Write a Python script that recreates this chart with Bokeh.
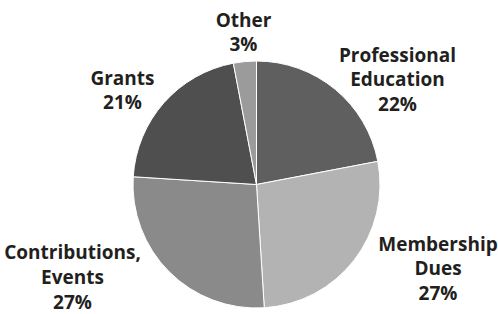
import math
from bokeh.plotting import figure
from bokeh.models import ColumnDataSource, Range1d
from bokeh.core.properties import value
from bokeh.embed import file_html
from bokeh.resources import INLINE

categories = ["Professional\nEducation", "Membership\nDues", "Contributions,\nEvents", "Grants", "Other"]
shares = [22, 27, 27, 21, 3]
colors = ["#5f5f5f", "#b3b3b3", "#8a8a8a", "#4f4f4f", "#9b9b9b"]

# layout (pixel-like coordinates inside the plot, origin bottom-left)
W, H = 498, 314
cx, cy, r = 256, 130, 123.5
label_pos = [(397, 235), (437.5, 46), (72, 37.5), (122, 224.5), (243, 282.5)]

total = float(sum(shares))
starts, ends = [], []
cum = 0.0
for s in shares:
    a0 = math.pi / 2 - 2 * math.pi * (cum + s) / total
    a1 = math.pi / 2 - 2 * math.pi * cum / total
    starts.append(a0)
    ends.append(a1)
    cum += s

texts = [f"{c}\n{s}%" for c, s in zip(categories, shares)]

src = ColumnDataSource(dict(start=starts, end=ends, color=colors))
lab = ColumnDataSource(dict(x=[p[0] for p in label_pos], y=[p[1] for p in label_pos], text=texts))

p = figure(width=W, height=H, x_range=Range1d(0, W), y_range=Range1d(0, H),
           output_backend="svg", toolbar_location=None, min_border=0)
p.axis.visible = False
p.grid.visible = False
p.outline_line_color = None
p.background_fill_color = "white"
p.border_fill_color = "white"

p.wedge(x=cx, y=cy, radius=r, start_angle="start", end_angle="end", direction="anticlock",
        fill_color="color", line_color="white", line_width=1, source=src)

p.text(x="x", y="y", text="text", source=lab, text_font=value("Open Sans"),
       text_font_style="bold", text_font_size="19px", text_color="#231f20",
       text_align="center", text_baseline="middle", text_line_height=0.95)

open("out.html", "w").write(file_html(p, INLINE))
